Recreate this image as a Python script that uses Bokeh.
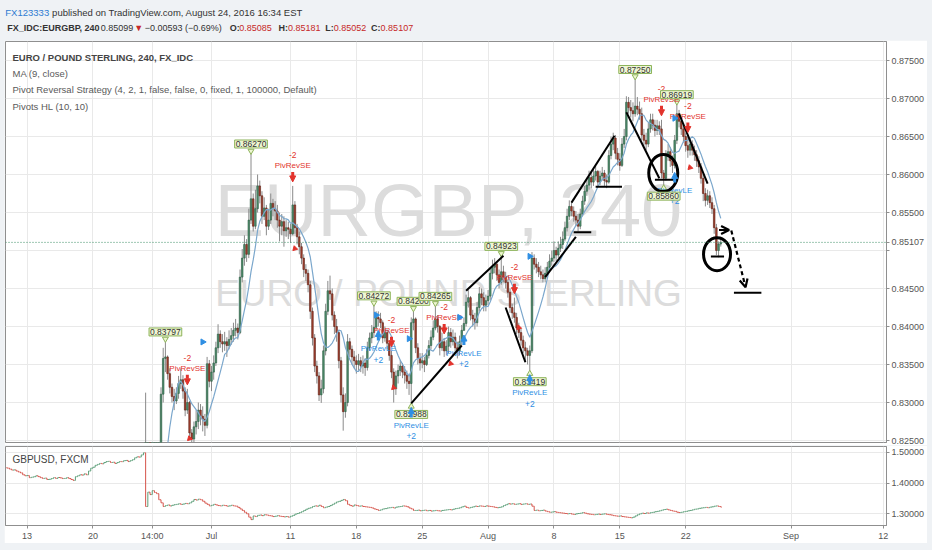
import numpy as np
from bokeh.plotting import figure
from bokeh.layouts import column
from bokeh.models import (Range1d, FixedTicker, PrintfTickFormatter, Label, Span,
                          Arrow, OpenHead, NormalHead, ColumnDataSource)
from bokeh.embed import file_html
from bokeh.resources import INLINE
from bokeh.core.properties import value

FONT = "Liberation Sans"

# ---------------------------------------------------------------- data
# Bars are 4-hour bars; bar 0 = Mon 13 Jun 2016 00:00, six bars per trading day.
eur_start = 54
eur_open0 = 0.7690
eur_close = [
    0.8120, 0.8160, 0.8105, 0.8140, 0.8175, 0.8190, 0.8215, 0.8311, 0.8358, 0.8360,
    0.8338, 0.8320, 0.8308, 0.8302, 0.8312, 0.8325, 0.8330, 0.8315, 0.8290, 0.8300,
    0.8260, 0.8252, 0.8268, 0.8275, 0.8290, 0.8282, 0.8278, 0.8270, 0.8351, 0.8328,
    0.8340, 0.8352, 0.8372, 0.8390, 0.8380, 0.8377, 0.8380, 0.8375, 0.8383, 0.8388,
    0.8395, 0.8398, 0.8392, 0.8465, 0.8490, 0.8508, 0.8495, 0.8540, 0.8568, 0.8532,
    0.8555, 0.8585, 0.8572, 0.8545, 0.8556, 0.8532, 0.8540, 0.8562, 0.8555, 0.8552,
    0.8540, 0.8532, 0.8538, 0.8526, 0.8530, 0.8528, 0.8522, 0.8560, 0.8530, 0.8518,
    0.8505, 0.8490, 0.8475, 0.8470, 0.8455, 0.8420, 0.8385, 0.8348, 0.8335, 0.8310,
    0.8318, 0.8368, 0.8420, 0.8447, 0.8443, 0.8415, 0.8400, 0.8392, 0.8355, 0.8310,
    0.8288, 0.8300, 0.8380, 0.8370, 0.8360, 0.8355, 0.8350, 0.8355, 0.8348, 0.8352,
    0.8346, 0.8372, 0.8385, 0.8392, 0.8399, 0.8412, 0.8410, 0.8405, 0.8385, 0.8392,
    0.8378, 0.8362, 0.8340, 0.8318, 0.8335, 0.8342, 0.8348, 0.8340, 0.8336, 0.8328,
    0.8325, 0.8405, 0.8410, 0.8372, 0.8358, 0.8352, 0.8355, 0.8350, 0.8362, 0.8375,
    0.8386, 0.8398, 0.8410, 0.8400, 0.8372, 0.8380, 0.8368, 0.8374, 0.8392, 0.8380,
    0.8386, 0.8372, 0.8368, 0.8380, 0.8395, 0.8404, 0.8432, 0.8438, 0.8415, 0.8410,
    0.8405, 0.8425, 0.8443, 0.8438, 0.8428, 0.8434, 0.8440, 0.8470, 0.8478, 0.8482,
    0.8468, 0.8458, 0.8472, 0.8465, 0.8458, 0.8445, 0.8425, 0.8418, 0.8412, 0.8398,
    0.8392, 0.8382, 0.8372, 0.8368, 0.8362, 0.8368, 0.8490, 0.8482, 0.8478, 0.8472,
    0.8468, 0.8463, 0.8470, 0.8478, 0.8486, 0.8490, 0.8500, 0.8494, 0.8503, 0.8508,
    0.8515, 0.8530, 0.8545, 0.8558, 0.8552, 0.8545, 0.8540, 0.8532, 0.8548, 0.8565,
    0.8578, 0.8586, 0.8596, 0.8590, 0.8598, 0.8604, 0.8590, 0.8598, 0.8602, 0.8592,
    0.8590, 0.8625, 0.8640, 0.8648, 0.8628, 0.8620, 0.8612, 0.8640, 0.8650, 0.8695,
    0.8688, 0.8684, 0.8680, 0.8690, 0.8686, 0.8680, 0.8652, 0.8645, 0.8640, 0.8660,
    0.8672, 0.8665, 0.8658, 0.8664, 0.8660, 0.8602, 0.8595, 0.8625, 0.8630, 0.8618,
    0.8612, 0.8645, 0.8680, 0.8670, 0.8660, 0.8650, 0.8638, 0.8632, 0.8640, 0.8632,
    0.8626, 0.8618, 0.8610, 0.8595, 0.8575, 0.8566, 0.8572, 0.8563, 0.8555, 0.8530,
    0.8500, 0.85085, 0.85107,
]
eur_high = [
    0.8313, 0.8200, 0.8190, 0.8170, 0.8200, 0.8220, 0.8240, 0.8320, 0.8372, 0.83797,
    0.8362, 0.8345, 0.8325, 0.8318, 0.8320, 0.8335, 0.8345, 0.8336, 0.8320, 0.8318,
    0.8302, 0.8265, 0.8275, 0.8290, 0.8300, 0.8298, 0.8295, 0.8285, 0.8360, 0.8356,
    0.8348, 0.8362, 0.8380, 0.8403, 0.8395, 0.8390, 0.8393, 0.8386, 0.8395, 0.8398,
    0.8405, 0.8410, 0.8404, 0.8475, 0.8502, 0.8520, 0.8515, 0.8555, 0.8627, 0.8575,
    0.8580, 0.8600, 0.8592, 0.8578, 0.8570, 0.8560, 0.8555, 0.8575, 0.8568, 0.8565,
    0.8560, 0.8550, 0.8548, 0.8545, 0.8540, 0.8538, 0.8535, 0.8585, 0.8565, 0.8535,
    0.8525, 0.8510, 0.8495, 0.8482, 0.8475, 0.8460, 0.8425, 0.8390, 0.8355, 0.8340,
    0.8330, 0.8375, 0.8430, 0.8460, 0.8467, 0.8450, 0.8420, 0.8410, 0.8395, 0.8360,
    0.8320, 0.8312, 0.8390, 0.8385, 0.8375, 0.8368, 0.8362, 0.8364, 0.8360, 0.8362,
    0.8358, 0.8380, 0.8392, 0.8402, 0.84272, 0.8420, 0.8420, 0.8418, 0.8408, 0.8400,
    0.8395, 0.8382, 0.8368, 0.8345, 0.8342, 0.8350, 0.8356, 0.8352, 0.8348, 0.8342,
    0.8338, 0.8412, 0.8420, 0.8412, 0.8378, 0.8365, 0.8365, 0.8360, 0.8370, 0.8382,
    0.8395, 0.8408, 0.84265, 0.8415, 0.8402, 0.8392, 0.8385, 0.8382, 0.8400, 0.8398,
    0.8396, 0.8392, 0.8380, 0.8388, 0.8402, 0.8412, 0.8442, 0.8448, 0.8440, 0.8422,
    0.8418, 0.8432, 0.8452, 0.8450, 0.8445, 0.8442, 0.8448, 0.8478, 0.8488, 0.8490,
    0.8485, 0.8475, 0.84923, 0.8480, 0.8472, 0.8462, 0.8450, 0.8430, 0.8438, 0.8418,
    0.8405, 0.8398, 0.8388, 0.8380, 0.8372, 0.8375, 0.8498, 0.8495, 0.8490, 0.8485,
    0.8480, 0.8475, 0.8478, 0.8485, 0.8495, 0.8500, 0.8512, 0.8505, 0.8512, 0.8518,
    0.8525, 0.8538, 0.8555, 0.8566, 0.8565, 0.8558, 0.8552, 0.8548, 0.8555, 0.8572,
    0.8585, 0.8595, 0.8605, 0.8604, 0.8608, 0.8612, 0.8606, 0.8605, 0.8610, 0.8606,
    0.8600, 0.8632, 0.8650, 0.8655, 0.8652, 0.8635, 0.8628, 0.8648, 0.8660, 0.8703,
    0.8702, 0.8698, 0.8695, 0.8725, 0.8702, 0.8696, 0.8688, 0.8660, 0.8655, 0.8668,
    0.8680, 0.8680, 0.8672, 0.8672, 0.8670, 0.8672, 0.8606, 0.8632, 0.8640, 0.8636,
    0.8625, 0.8652, 0.86919, 0.8685, 0.8675, 0.8665, 0.8655, 0.8650, 0.8648, 0.8645,
    0.8638, 0.8632, 0.8624, 0.8615, 0.8600, 0.8582, 0.8580, 0.8578, 0.8570, 0.8560,
    0.8535, 0.8512, 0.85181,
]
eur_low = [
    0.7640, 0.8060, 0.8080, 0.8090, 0.8120, 0.8150, 0.8170, 0.8200, 0.8300, 0.8340,
    0.8330, 0.8312, 0.8300, 0.8290, 0.8298, 0.8305, 0.8318, 0.8305, 0.8282, 0.8285,
    0.8252, 0.8240, 0.8245, 0.8258, 0.8265, 0.8270, 0.8262, 0.8256, 0.8266, 0.8320,
    0.8315, 0.8330, 0.8348, 0.8365, 0.8372, 0.8366, 0.8368, 0.8360, 0.8370, 0.8376,
    0.8380, 0.8387, 0.8383, 0.8390, 0.8458, 0.8480, 0.8485, 0.8490, 0.8535, 0.8525,
    0.8528, 0.8550, 0.8562, 0.8535, 0.8540, 0.8520, 0.8527, 0.8535, 0.8545, 0.8540,
    0.8530, 0.8512, 0.8520, 0.8505, 0.8518, 0.8515, 0.8510, 0.8520, 0.8522, 0.8508,
    0.8495, 0.8482, 0.8465, 0.8460, 0.8445, 0.8410, 0.8375, 0.8340, 0.8325, 0.8302,
    0.82995, 0.8312, 0.8362, 0.8415, 0.8435, 0.8408, 0.8390, 0.8380, 0.8345, 0.8300,
    0.8263, 0.8280, 0.8295, 0.8360, 0.8350, 0.8345, 0.8338, 0.8342, 0.8340, 0.8338,
    0.8335, 0.8342, 0.8368, 0.8378, 0.8385, 0.8395, 0.8400, 0.8398, 0.8378, 0.8380,
    0.8370, 0.8355, 0.8332, 0.8300, 0.8310, 0.8325, 0.8335, 0.8332, 0.8325, 0.8318,
    0.8310, 0.82988, 0.8395, 0.8365, 0.8350, 0.8342, 0.8345, 0.8340, 0.8348, 0.8358,
    0.8370, 0.8382, 0.8395, 0.8392, 0.8362, 0.8368, 0.8360, 0.8362, 0.8365, 0.8372,
    0.8375, 0.8365, 0.8358, 0.8362, 0.8375, 0.8394, 0.8400, 0.8425, 0.8408, 0.8400,
    0.8396, 0.8400, 0.8420, 0.8428, 0.8420, 0.8420, 0.8428, 0.8435, 0.8462, 0.8470,
    0.8460, 0.8450, 0.8455, 0.8458, 0.8450, 0.8438, 0.8418, 0.8410, 0.8405, 0.8390,
    0.8385, 0.8375, 0.8365, 0.8355, 0.8350, 0.83419, 0.8365, 0.8475, 0.8470, 0.8465,
    0.8462, 0.8458, 0.8458, 0.8465, 0.8472, 0.8480, 0.8485, 0.8486, 0.8490, 0.8498,
    0.8502, 0.8512, 0.8525, 0.8540, 0.8545, 0.8538, 0.8532, 0.8525, 0.8528, 0.8545,
    0.8560, 0.8572, 0.8580, 0.8582, 0.8585, 0.8592, 0.8585, 0.8586, 0.8592, 0.8585,
    0.8582, 0.8588, 0.8620, 0.8632, 0.8620, 0.8612, 0.8605, 0.8610, 0.8635, 0.8645,
    0.8680, 0.8675, 0.8670, 0.8676, 0.8678, 0.8672, 0.8645, 0.8638, 0.8632, 0.8636,
    0.8655, 0.8658, 0.8650, 0.8652, 0.8652, 0.8595, 0.85860, 0.8592, 0.8618, 0.8610,
    0.8602, 0.8608, 0.8640, 0.8662, 0.8652, 0.8642, 0.8630, 0.8622, 0.8625, 0.8625,
    0.8618, 0.8610, 0.8602, 0.8588, 0.8565, 0.8558, 0.8560, 0.8556, 0.8548, 0.8522,
    0.8494, 0.8491, 0.85052,
]

gbp_start = -9
gbp_open0 = 1.4500
gbp_close = [
    1.4486, 1.4455, 1.4424, 1.4430, 1.4393, 1.4362, 1.4331, 1.4269, 1.4238, 1.4245,
    1.4176, 1.4190, 1.4207, 1.4238, 1.4210, 1.4176, 1.4150, 1.4160, 1.4115, 1.4120,
    1.4146, 1.4176, 1.4150, 1.4180, 1.4170, 1.4146, 1.4150, 1.4176, 1.4146, 1.4115,
    1.4084, 1.4207, 1.4238, 1.4269, 1.4260, 1.4300, 1.4269, 1.4393, 1.4486, 1.4517,
    1.4579, 1.4610, 1.4641, 1.4630, 1.4672, 1.4703, 1.4710, 1.4672, 1.4680, 1.4641,
    1.4672, 1.4703, 1.4700, 1.4734, 1.4740, 1.4703, 1.4734, 1.4765, 1.4827, 1.4858,
    1.4850, 1.4920, 1.4990, 1.3229, 1.3700, 1.3620, 1.3750, 1.3690, 1.3650, 1.3450,
    1.3350, 1.3230, 1.3260, 1.3280, 1.3248, 1.3270, 1.3290, 1.3300, 1.3320, 1.3300,
    1.3310, 1.3330, 1.3320, 1.3350, 1.3400, 1.3460, 1.3440, 1.3470, 1.3450, 1.3400,
    1.3340, 1.3300, 1.3250, 1.3270, 1.3300, 1.3280, 1.3260, 1.3250, 1.3270, 1.3260,
    1.3240, 1.3250, 1.3270, 1.3250, 1.3240, 1.3200, 1.3150, 1.3100, 1.3040, 1.2990,
    1.2880, 1.2800, 1.2920, 1.2900, 1.2940, 1.2950, 1.2930, 1.2960, 1.2950, 1.2930,
    1.2920, 1.2900, 1.2910, 1.2930, 1.2910, 1.2900, 1.2890, 1.2900, 1.2880, 1.2910,
    1.2940, 1.2980, 1.3000, 1.3030, 1.3060, 1.3100, 1.3140, 1.3170, 1.3190, 1.3230,
    1.3250, 1.3240, 1.3270, 1.3230, 1.3190, 1.3210, 1.3230, 1.3260, 1.3300, 1.3340,
    1.3380, 1.3400, 1.3430, 1.3460, 1.3420, 1.3300, 1.3260, 1.3240, 1.3280, 1.3260,
    1.3240, 1.3250, 1.3230, 1.3220, 1.3210, 1.3200, 1.3180, 1.3150, 1.3130, 1.3100,
    1.3120, 1.3150, 1.3160, 1.3180, 1.3190, 1.3200, 1.3180, 1.3210, 1.3220, 1.3230,
    1.3250, 1.3240, 1.3220, 1.3180, 1.3150, 1.3100, 1.3100, 1.3110, 1.3090, 1.3100,
    1.3110, 1.3090, 1.3100, 1.3080, 1.3090, 1.3100, 1.3090, 1.3080, 1.3100, 1.3110,
    1.3120, 1.3130, 1.3120, 1.3140, 1.3160, 1.3170, 1.3190, 1.3220, 1.3240, 1.3200,
    1.3180, 1.3200, 1.3220, 1.3240, 1.3230, 1.3250, 1.3240, 1.3230, 1.3250, 1.3240,
    1.3230, 1.3220, 1.3200, 1.3190, 1.3200, 1.3220, 1.3260, 1.3290, 1.3320, 1.3310,
    1.3320, 1.3300, 1.3310, 1.3320, 1.3300, 1.3310, 1.3320, 1.3300, 1.3310, 1.3240,
    1.3100, 1.3110, 1.3090, 1.3100, 1.3110, 1.3080, 1.3060, 1.3040, 1.3050, 1.3060,
    1.3040, 1.3030, 1.3020, 1.3010, 1.3000, 1.2990, 1.3000, 1.2980, 1.2970, 1.2990,
    1.3000, 1.3010, 1.3030, 1.3010, 1.2990, 1.2980, 1.2970, 1.2960, 1.2970, 1.2980,
    1.2970, 1.2980, 1.2990, 1.2970, 1.2960, 1.2950, 1.2930, 1.2920, 1.2910, 1.2920,
    1.2900, 1.2890, 1.2880, 1.2870, 1.2860, 1.2880, 1.2920, 1.2960, 1.2990, 1.3010,
    1.3000, 1.3020, 1.3010, 1.3030, 1.3040, 1.3060, 1.3070, 1.3090, 1.3110, 1.3130,
    1.3140, 1.3120, 1.3100, 1.3080, 1.3070, 1.3040, 1.3030, 1.3040, 1.3060, 1.3070,
    1.3090, 1.3100, 1.3120, 1.3140, 1.3150, 1.3170, 1.3180, 1.3190, 1.3200, 1.3190,
    1.3210, 1.3220, 1.3240, 1.3250, 1.3230, 1.3210,
]

tick_bars = [0, 30, 57, 84, 120, 150, 180, 210, 240, 270, 300, 348, 390]
tick_labels = ["13", "20", "14:00", "Jul", "11", "18", "25", "Aug", "8", "15", "22", "Sep", "12"]
price_ticks = [0.825, 0.830, 0.835, 0.840, 0.845, 0.850, 0.855, 0.860, 0.865, 0.870, 0.875]
gbp_ticks = [1.3, 1.4, 1.5]

pivot_high_bars = [63, 102, 158, 176, 186, 216, 277, 296]
pivot_low_bars = [175, 229, 290]
short_entry_bars = [73, 121, 166, 190, 222, 289, 301]
long_entry_bars = [160, 175, 199, 229, 295]
order_flag_bars = [80, 159, 174, 197, 229, 295]
order_flag_prices = [0.83797, 0.8415, 0.8384, 0.8412, 0.84923, 0.8674]
exit_bars = [74, 122, 167, 193, 224, 302]
exit_prices = [0.82526, 0.85026, 0.83197, 0.83513, 0.83987, 0.86092]

last_price = 0.85107

# trend lines drawn on the chart (bar, price) -> (bar, price)
draw_x0 = [175, 200, 218, 236, 249, 248, 259, 273, 286, 297, 311.5, 322]
draw_y0 = [0.82988, 0.8447, 0.8425, 0.8465, 0.8524, 0.8563, 0.8584, 0.8682, 0.8593, 0.8680, 0.8492, 0.84443]
draw_x1 = [198, 217, 227, 250, 257, 267.6, 271, 288, 295, 310, 317.5, 334.5]
draw_y1 = [0.8375, 0.8493, 0.8353, 0.8518, 0.8524, 0.8651, 0.8584, 0.8595, 0.8593, 0.8588, 0.8492, 0.84443]
ring_x = [289.8, 314.3]
ring_y = [0.8602, 0.84951]
ring_w = [29, 27]
ring_h = [37, 33]
arrow_x0 = [315.2, 320.8]
arrow_y0 = [0.8527, 0.85263]
arrow_x1 = [319.8, 327.3]
arrow_y1 = [0.8527, 0.84517]
arrow_dash = ["solid", "4 3"]

# ---------------------------------------------------------------- styling
GRID = "#e9e9e9"
FRAME = "#8f8f8f"
AXIS_TEXT = "#555555"
UP_FILL, UP_LINE = "#4f8f6c", "#2e5c44"
DN_FILL, DN_LINE = "#a4402f", "#5e2418"
WICK = "#8a8a8a"
MA_COLOR = "#7ba7cc"
RED = "#e2332c"
BLUE = "#2f8fe3"
TAG_FILL, TAG_LINE = "#eef6d2", "#8db35a"
PAGE = "#eff2f5"

x_range = Range1d(-9.84, 391.5)
main_lo, main_hi = 0.82474, 0.87750
MAIN_H = 401
ppx = (main_hi - main_lo) / MAIN_H   # price per screen pixel in the main pane

# ---------------------------------------------------------------- header
header = figure(width=932, height=40, x_range=(0, 932), y_range=(40, 0),
                toolbar_location=None, output_backend="svg", min_border=0)
header.axis.visible = False
header.grid.visible = False
header.outline_line_color = None
header.background_fill_color = PAGE
header.border_fill_color = PAGE


def head_text(x, y, s, color="#333333", bold=False, size="9px"):
    header.text(x=[x], y=[y], text=[s], text_font=value(FONT), text_font_size=size,
                text_color=color, text_baseline="middle", text_align="left",
                text_font_style="bold" if bold else "normal")


head_text(4, 12, "FX123333", color="#2e7bd2", size="9.5px")
head_text(53, 12, "published on TradingView.com, August 24, 2016 16:34 EST", size="9.5px")
head_text(6, 27, "FX_IDC:EURGBP, 240", bold=True)
head_text(104, 27, "0.85099")
head_text(139, 27, "▼", color="#c62828")
head_text(150, 27, "−0.00593 (−0.69%)")
for lx, lab, vx, val in [(239, "O:", 249, "0.85085"), (290, "H:", 300, "0.85181"),
                         (339, "L:", 348, "0.85052"), (387, "C:", 397, "0.85107")]:
    head_text(lx, 27, lab, bold=True)
    head_text(vx, 27, val, color="#c62828")

# ---------------------------------------------------------------- main pane
main = figure(width=923, height=MAIN_H + 4, x_range=x_range, y_range=Range1d(main_lo, main_hi),
              x_axis_location=None, y_axis_location="right", toolbar_location=None,
              output_backend="svg", min_border_left=1, min_border_right=38,
              min_border_top=1, min_border_bottom=3)
main.margin = (0, 5, 0, 4)
main.outline_line_color = FRAME
main.border_fill_color = "white"
main.xgrid.ticker = FixedTicker(ticks=tick_bars)
main.ygrid.ticker = FixedTicker(ticks=price_ticks)
main.grid.grid_line_color = GRID
for ax in main.yaxis:
    # the last traded price is marked on the scale; it sits over the 0.85000 label
    ax.ticker = FixedTicker(ticks=price_ticks + [last_price])
    ax.formatter = PrintfTickFormatter(format="%.5f")
    ax.major_label_overrides = {last_price: f"{last_price:.5f}", 0.850: ""}
    ax.major_label_text_font = FONT
    ax.major_label_text_font_size = "9px"
    ax.major_label_text_color = AXIS_TEXT
    ax.axis_line_color = FRAME
    ax.major_tick_line_color = FRAME
    ax.major_tick_out = 3
    ax.major_tick_in = 0
    ax.minor_tick_line_color = None
    ax.major_label_standoff = 2

# watermark
main.add_layout(Label(x=443, y=232, x_units="screen", y_units="screen", text="EURGBP, 240",
                      text_font=FONT, text_font_size="74px", text_color="#dcdcdc",
                      text_align="center", text_baseline="middle", level="underlay"))
main.add_layout(Label(x=443, y=149, x_units="screen", y_units="screen", text="EURO / POUND STERLING",
                      text_font=FONT, text_font_size="37px", text_color="#dcdcdc",
                      text_align="center", text_baseline="middle", level="underlay"))

# candles
close = np.array(eur_close)
open_ = np.concatenate([[eur_open0], close[:-1]])
high = np.array(eur_high)
low = np.array(eur_low)
bars = np.arange(eur_start, eur_start + len(close))
up = close >= open_
eur = ColumnDataSource(dict(
    x=bars, high=high, low=low,
    top=np.maximum(open_, close), bottom=np.minimum(open_, close),
    fill=[UP_FILL if u else DN_FILL for u in up],
    line=[UP_LINE if u else DN_LINE for u in up]))
main.segment(x0="x", y0="low", x1="x", y1="high", source=eur, line_color=WICK, line_width=1)
main.vbar(x="x", top="top", bottom="bottom", width=0.72, source=eur,
          fill_color="fill", line_color="line", line_width=0.6)

# MA (9, close)
ma = np.convolve(close, np.ones(9) / 9, mode="valid")
main.line(bars[8:], ma, line_color=MA_COLOR, line_width=1.2)

# last price line
main.add_layout(Span(location=last_price, dimension="width", line_color="#3f8f68",
                     line_dash="1 2", line_width=1))

# pivot tags
for b in pivot_high_bars:
    h = eur_high[b - eur_start]
    main.add_layout(Label(x=b, y=h, y_offset=6, text=f"{h:.5f}", text_font=FONT,
                          text_font_size="8.5px", text_color="#333333", text_align="center",
                          text_baseline="bottom", background_fill_color=TAG_FILL,
                          border_line_color=TAG_LINE, padding=1))
    main.scatter([b], [h + 3 * ppx], marker="inverted_triangle", size=6,
                 fill_color=TAG_FILL, line_color=TAG_LINE)
for b in pivot_low_bars:
    lo = eur_low[b - eur_start]
    main.add_layout(Label(x=b, y=lo, y_offset=-7, text=f"{lo:.5f}", text_font=FONT,
                          text_font_size="8.5px", text_color="#333333", text_align="center",
                          text_baseline="top", background_fill_color=TAG_FILL,
                          border_line_color=TAG_LINE, padding=1))
    main.scatter([b], [lo - 3 * ppx], marker="triangle", size=6,
                 fill_color=TAG_FILL, line_color=TAG_LINE)

# strategy entries
se_hi = np.array([eur_high[b - eur_start] for b in short_entry_bars])
se = ColumnDataSource(dict(x=short_entry_bars, y=se_hi,
                           ys=se_hi + 14 * ppx, ye=se_hi + 4 * ppx))
main.add_layout(Arrow(source=se, x_start="x", y_start="ys", x_end="x", y_end="ye",
                      line_color=RED, line_width=3,
                      end=NormalHead(size=6, fill_color=RED, line_color=RED)))
main.text(x="x", y="y", text=value("PivRevSE"), source=se, y_offset=-20,
          text_font=value(FONT), text_font_size="8px", text_color=RED,
          text_align="center", text_baseline="middle")
main.text(x="x", y="y", text=value("-2"), source=se, y_offset=-31,
          text_font=value(FONT), text_font_size="8.5px", text_color=RED,
          text_align="center", text_baseline="middle")

le_lo = np.array([eur_low[b - eur_start] for b in long_entry_bars])
le = ColumnDataSource(dict(x=long_entry_bars, y=le_lo,
                           ys=le_lo - 14 * ppx, ye=le_lo - 4 * ppx))
main.add_layout(Arrow(source=le, x_start="x", y_start="ys", x_end="x", y_end="ye",
                      line_color=BLUE, line_width=3,
                      end=NormalHead(size=6, fill_color=BLUE, line_color=BLUE)))
main.text(x="x", y="y", text=value("PivRevLE"), source=le, y_offset=22,
          text_font=value(FONT), text_font_size="8px", text_color=BLUE,
          text_align="center", text_baseline="middle")
main.text(x="x", y="y", text=value("+2"), source=le, y_offset=33,
          text_font=value(FONT), text_font_size="8.5px", text_color=BLUE,
          text_align="center", text_baseline="middle")

# pending-order flags and exits
main.scatter(order_flag_bars, order_flag_prices, marker="triangle", angle=-np.pi / 2,
             size=6, fill_color=BLUE, line_color=BLUE)
main.scatter(exit_bars, exit_prices, marker="triangle", angle=0.75 * np.pi,
             size=5, fill_color=RED, line_color=RED)

# drawings
main.segment(x0=draw_x0, y0=draw_y0, x1=draw_x1, y1=draw_y1, line_color="black", line_width=2)
main.ellipse(x=ring_x, y=ring_y, width=ring_w, height=ring_h, width_units="screen",
             height_units="screen", fill_alpha=0, line_color="black", line_width=3)
for x0, y0, x1, y1, dash in zip(arrow_x0, arrow_y0, arrow_x1, arrow_y1, arrow_dash):
    main.add_layout(Arrow(x_start=x0, y_start=y0, x_end=x1, y_end=y1, line_color="black",
                          line_width=2.2, line_dash=dash,
                          end=OpenHead(size=8, line_color="black", line_width=2.2)))

# legend
legend_rows = [("EURO / POUND STERLING, 240, FX_IDC", "bold", "#444444"),
               ("MA (9, close)", "normal", "#5a5a5a"),
               ("Pivot Reversal Strategy (4, 2, 1, false, false, 0, fixed, 1, 100000, Default)",
                "normal", "#5a5a5a"),
               ("Pivots HL (10, 10)", "normal", "#5a5a5a")]
for i, (s, style, col) in enumerate(legend_rows):
    main.add_layout(Label(x=7, y=385 - i * 16.2, x_units="screen", y_units="screen", text=s,
                          text_font=FONT, text_font_size="9.5px", text_font_style=style,
                          text_color=col, text_baseline="middle"))

# ---------------------------------------------------------------- GBPUSD pane
lower = figure(width=923, height=98, x_range=x_range, y_range=Range1d(1.26066, 1.51967),
               y_axis_location="right", toolbar_location=None, output_backend="svg",
               min_border_left=1, min_border_right=38, min_border_top=1, min_border_bottom=18)
lower.margin = (0, 5, 7, 4)
lower.outline_line_color = FRAME
lower.grid.grid_line_color = GRID
for ax in lower.yaxis:
    ax.ticker = FixedTicker(ticks=gbp_ticks)
    ax.formatter = PrintfTickFormatter(format="%.5f")
for ax in lower.xaxis:
    ax.ticker = FixedTicker(ticks=tick_bars)
    ax.major_label_overrides = {b: s for b, s in zip(tick_bars, tick_labels)}
for ax in lower.axis:
    ax.major_label_text_font = FONT
    ax.major_label_text_font_size = "9px"
    ax.major_label_text_color = AXIS_TEXT
    ax.axis_line_color = FRAME
    ax.major_tick_line_color = FRAME
    ax.major_tick_out = 3
    ax.major_tick_in = 0
    ax.minor_tick_line_color = None
    ax.major_label_standoff = 2

g_close = np.array(gbp_close)
g_open = np.concatenate([[gbp_open0], g_close[:-1]])
g_bars = np.arange(gbp_start, gbp_start + len(g_close))
g_col = ["#5b9e78" if c >= o else "#d5534a" for o, c in zip(g_open, g_close)]
lower.segment(x0=g_bars, y0=g_open, x1=g_bars, y1=g_close, line_color=g_col, line_width=1)
lower.segment(x0=g_bars - 0.45, y0=g_open, x1=g_bars, y1=g_open, line_color=g_col, line_width=1)
lower.segment(x0=g_bars, y0=g_close, x1=g_bars + 0.45, y1=g_close, line_color=g_col, line_width=1)

lower.add_layout(Label(x=7, y=66, x_units="screen", y_units="screen", text="GBPUSD, FXCM",
                       text_font=FONT, text_font_size="10px", text_color="#444444",
                       text_baseline="middle"))

layout = column(header, main, lower, styles={"background-color": PAGE})
open("out.html", "w").write(file_html(layout, INLINE))
